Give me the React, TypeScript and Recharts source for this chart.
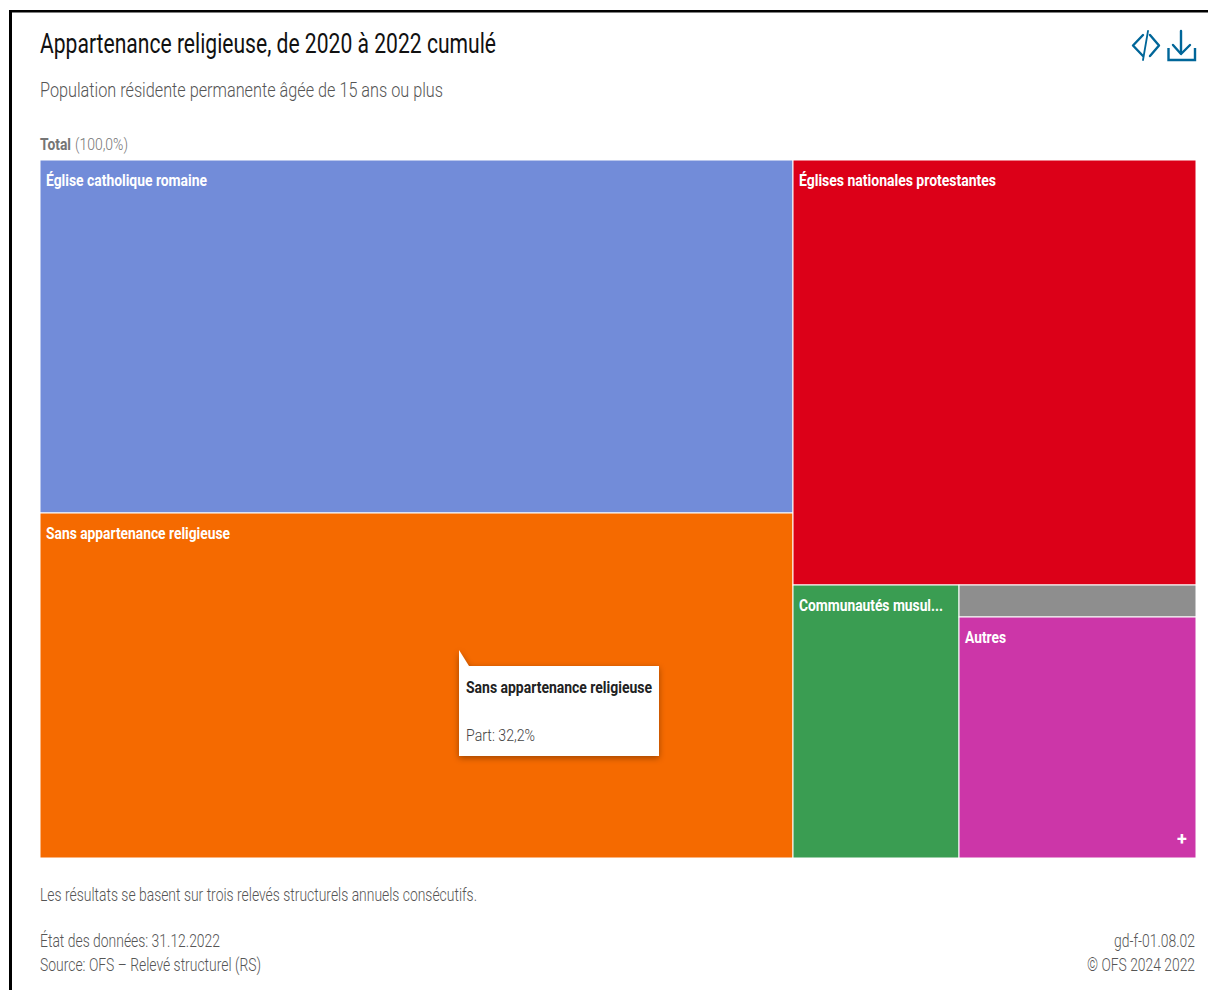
import React from "react";
import { Treemap } from "recharts";

// Shares of the resident population by religious affiliation, in percent.
const categories = [
  "Église catholique romaine",
  "Sans appartenance religieuse",
  "Églises nationales protestantes",
  "Communautés musulmanes",
  "Non indiqué",
  "Autres",
];
const shares = [32.9, 32.2, 21.25, 5.6, 0.95, 7.1];
const colors = ["#728cd9", "#f56a00", "#dc0018", "#3a9d52", "#8e8e8e", "#cc36a8"];
const cellLabels = [
  "Église catholique romaine",
  "Sans appartenance religieuse",
  "Églises nationales protestantes",
  "Communautés musul...",
  "",
  "Autres",
];
const cellLabelWidths = [161, 184, 197, 144, 0, 41];

const treeData = categories.map((name, i) => ({
  name,
  value: shares[i],
  fill: colors[i],
  label: cellLabels[i],
  labelWidth: cellLabelWidths[i],
}));

const FONT = "Roboto, sans-serif";
const frenchPercent = (v: number) => `${v.toFixed(1).replace(".", ",")}%`;

// One rectangle of the treemap with its white caption.
function CellShape(props: any) {
  const { x, y, width, height, depth, fill, label, labelWidth } = props;
  if (depth !== 1) return null;
  return (
    <g>
      <rect x={x} y={y} width={width} height={height} fill={fill} stroke="#ffffff" strokeWidth={1} />
      {label ? (
        <text
          x={x + 6}
          y={y + 26}
          fill="#ffffff"
          stroke="none"
          fontFamily={FONT}
          fontWeight={700}
          fontSize={16}
          textLength={labelWidth}
          lengthAdjust="spacingAndGlyphs"
        >
          {label}
        </text>
      ) : null}
    </g>
  );
}

function Line(props: {
  x: number;
  y: number;
  w: number;
  size: number;
  color: string;
  weight?: number;
  children: React.ReactNode;
}) {
  const { x, y, w, size, color, weight = 300, children } = props;
  return (
    <text
      x={x}
      y={y}
      fill={color}
      fontFamily={FONT}
      fontSize={size}
      fontWeight={weight}
      textLength={w}
      lengthAdjust="spacingAndGlyphs"
    >
      {children}
    </text>
  );
}

// Right-aligned credit line: a smaller font stretched upwards to the height of the other footer text.
function CreditLine(props: { y: number; w: number; children: React.ReactNode }) {
  const { y, w, children } = props;
  return (
    <g transform={`translate(1195,${y}) scale(1,1.29)`}>
      <text
        x={0}
        y={0}
        fill="#555555"
        fontFamily={FONT}
        fontSize={14}
        fontWeight={300}
        textAnchor="end"
        textLength={w}
        lengthAdjust="spacingAndGlyphs"
      >
        {children}
      </text>
    </g>
  );
}

export default function App() {
  const focus = treeData[1];
  return (
    <div
      style={{
        position: "absolute",
        left: 0,
        top: 0,
        width: 1208,
        height: 990,
        background: "#ffffff",
        overflow: "hidden",
      }}
    >
      <div style={{ position: "absolute", left: 40, top: 160 }}>
        <Treemap
          width={1156}
          height={698}
          data={treeData}
          dataKey="value"
          nameKey="name"
          type="flat"
          aspectRatio={1.12}
          stroke="#ffffff"
          isAnimationActive={false}
          content={<CellShape />}
        />
      </div>

      <svg
        width={1208}
        height={990}
        style={{ position: "absolute", left: 0, top: 0, pointerEvents: "none" }}
      >
        {/* frame along the top and left */}
        <rect x={9} y={10} width={1199} height={2.5} fill="#000000" />
        <rect x={9} y={10} width={3} height={980} fill="#000000" />

        <Line x={40} y={53} w={456} size={27} color="#111111" weight={400}>
          Appartenance religieuse, de 2020 à 2022 cumulé
        </Line>
        <Line x={40} y={97} w={403} size={21} color="#555555">
          Population résidente permanente âgée de 15 ans ou plus
        </Line>
        <Line x={40} y={150} w={31} size={17} color="#757575" weight={700}>
          Total
        </Line>
        <Line x={75} y={150} w={53} size={17} color="#757575">
          (100,0%)
        </Line>

        {/* embed and download buttons */}
        <g fill="none" stroke="#006699" strokeWidth={2.4} strokeLinecap="round" strokeLinejoin="round">
          <path d="M1143 35 L1133 45.5 L1143 56" />
          <path d="M1148 31 L1143 60" strokeWidth={1.8} />
          <path d="M1150 35 L1159 45.5 L1150 56" />
          <path d="M1181 31 L1181 53" />
          <path d="M1173 45 L1181 54 L1190 45" />
          <path d="M1168.5 48 L1168.5 60 L1195 60 L1195 48" strokeLinecap="butt" strokeLinejoin="miter" />
        </g>

        <text x={1182} y={845} fill="#ffffff" fontFamily={FONT} fontWeight={700} fontSize={18} textAnchor="middle">
          +
        </text>

        {/* hover card for the selected category */}
        <path
          d="M459 650 L469 666 L659 666 L659 756 L459 756 Z"
          fill="#ffffff"
          style={{ filter: "drop-shadow(0 2px 3px rgba(0,0,0,0.35))" }}
        />
        <Line x={466} y={693} w={186} size={16} color="#222222" weight={700}>
          {focus.name}
        </Line>
        <Line x={466} y={741} w={69} size={17} color="#444444">
          {`Part: ${frenchPercent(focus.value)}`}
        </Line>

        <Line x={40} y={900.5} w={437} size={18} color="#555555">
          Les résultats se basent sur trois relevés structurels annuels consécutifs.
        </Line>
        <Line x={40} y={947} w={180} size={18} color="#555555">
          État des données: 31.12.2022
        </Line>
        <Line x={40} y={971} w={221} size={18} color="#555555">
          Source: OFS – Relevé structurel (RS)
        </Line>
        <CreditLine y={947} w={81}>
          gd-f-01.08.02
        </CreditLine>
        <CreditLine y={971} w={108}>
          © OFS 2024 2022
        </CreditLine>
      </svg>
    </div>
  );
}
